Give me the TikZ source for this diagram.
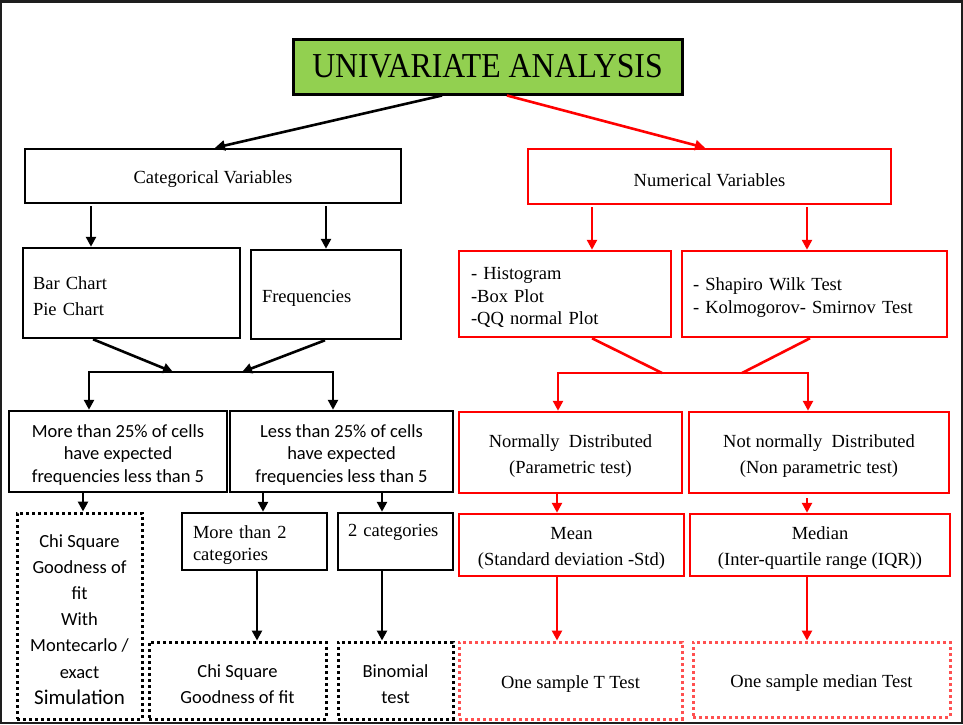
\documentclass[tikz,border=0pt]{standalone}
\usepackage{fontspec}
\setmainfont{Liberation Serif}
\newfontfamily\carl{Carlito}
\usetikzlibrary{arrows.meta}
\definecolor{framec}{HTML}{1E1E1E}
\definecolor{titlegreen}{HTML}{92D050}
\definecolor{dotred}{HTML}{FF5050}
\newcommand\tp{\rule{0pt}{19.5pt}}
\newcommand\mkbox[7]{\node[#6, minimum width={(#4-#2)*1pt}, minimum height={(#5-#3)*1pt}] (#1) at ({(#2+#4)/2},{(#3+#5)/2}) {#7};}
\tikzset{
  box/.style={draw, line width=2.5pt, inner sep=0pt, align=center},
  blk/.style={box, draw=black},
  rbox/.style={box, draw=red},
  dotb/.style={draw=black, line width=3pt, dash pattern=on 3pt off 3pt, inner sep=0pt, align=center},
  dotr/.style={dotb, draw=dotred},
  serif/.style={font=\fontsize{18.5}{26}\selectfont},
  serift/.style={font=\fontsize{18.5}{22.5}\selectfont},
  sans/.style={font=\carl\fontsize{18.5}{22.5}\selectfont},
  sanst/.style={font=\carl\fontsize{18.5}{26.2}\selectfont},
  leftt/.style={align=left, text width=#1},
  arr/.style={line width=2.6pt, -{Triangle[length=10pt,width=10pt]}},
  ln/.style={line width=2.6pt},
}
\begin{document}
\begin{tikzpicture}[x=1pt,y=-1pt]
\useasboundingbox (0,0) rectangle (963,724);
\fill[framec] (0,0) rectangle (963,724);
\fill[white] (2,3) rectangle (961,722);

\mkbox{title}{293}{39}{682}{94}{draw=black, fill=titlegreen, line width=3pt, inner sep=0pt, font=\fontsize{31.8}{32}\selectfont}{\raisebox{-2pt}{\scalebox{1}[1.1]{UNIVARIATE ANALYSIS}}}
\mkbox{cat}{25}{149}{401}{203}{blk, serif}{\tp Categorical Variables}
\mkbox{num}{528}{149}{891}{204}{rbox, serif}{\tp Numerical Variables}
\mkbox{bar}{23}{248}{240}{338}{blk, serif, leftt=197pt, inner xsep=10pt}{\tp Bar Chart\\Pie Chart}
\mkbox{freq}{251}{250}{401}{339}{blk, serif, leftt=128pt, inner xsep=11pt}{\tp Frequencies}
\mkbox{hist}{459}{251}{671}{337}{rbox, serift, leftt=188pt, inner xsep=12pt}{\tp - Histogram\\-Box Plot\\-QQ normal Plot}
\mkbox{shap}{682}{251}{947}{337}{rbox, serift, leftt=243pt, inner xsep=11pt}{\tp - Shapiro Wilk Test\\- Kolmogorov- Smirnov Test}
\mkbox{more}{9}{411}{227}{492}{blk, sans}{\tp More than 25\% of cells\\have expected\\frequencies less than 5}
\mkbox{less}{230}{411}{453}{492}{blk, sans}{\tp Less than 25\% of cells\\have expected\\frequencies less than 5}
\mkbox{norm}{459}{412}{682}{493}{rbox, serif}{\tp Normally\ \ Distributed\\(Parametric test)}
\mkbox{notn}{689}{412}{949}{493}{rbox, serif}{\tp Not normally\ \ Distributed\\(Non parametric test)}
\mkbox{chi}{17}{513}{142}{719}{dotb, sanst}{\tp Chi Square\\Goodness of\\fit\\With\\Montecarlo /\\exact\\{\fontsize{21}{26}\selectfont Simulation}}
\mkbox{more2}{182}{513}{327}{570}{blk, serift, leftt=123pt, inner xsep=11pt}{\tp More than 2\\categories}
\mkbox{two}{338}{513}{453}{570}{blk, serift, leftt=95pt, inner xsep=10pt}{2 categories\\\mbox{}}
\mkbox{chigof}{149}{642}{326}{719}{dotb, sanst}{\tp Chi Square\\Goodness of fit}
\mkbox{binom}{338}{642}{453}{719}{dotb, sanst}{\tp Binomial\\test}
\mkbox{mean}{459}{514}{684}{576}{rbox, serif}{\tp Mean\\(Standard deviation -Std)}
\mkbox{median}{690}{514}{950}{576}{rbox, serif}{\tp Median\\(Inter-quartile range (IQR))}
\mkbox{ttest}{459}{642}{682}{719}{dotr, serif}{\tp One sample T Test}
\mkbox{mtest}{693}{642}{950}{717}{dotr, serif}{\tp One sample median Test}

% top arrows
\draw[arr] (title.south -| 442,0) -- (cat.north -| 215,0);
\draw[arr, red] (title.south -| 507,0) -- (num.north -| 705,0);
\draw[arr, shorten <=2pt] (cat.south -| 91,0) -- (bar.north -| 91,0);
\draw[arr, shorten <=2pt] (cat.south -| 326,0) -- (freq.north -| 326,0);
\draw[arr, red, shorten <=2pt] (num.south -| 592,0) -- (hist.north -| 592,0);
\draw[arr, red, shorten <=2pt] (num.south -| 807,0) -- (shap.north -| 807,0);

% left merge
\coordinate (ml) at (173,372);
\coordinate (mr) at (242,372);
\coordinate (hl) at (89,372);
\coordinate (hr) at (333,372);
\draw[arr] (bar.south -| 93,0) -- (ml);
\draw[arr] (freq.south -| 325,0) -- (mr);
\draw[arr] (hl) -- (hr) -- (less.north -| hr);
\draw[arr] (hr) -- (hl) -- (more.north -| hl);

% right merge
\coordinate (rml) at (662,373);
\coordinate (rmr) at (742,373);
\coordinate (rhl) at (558,373);
\coordinate (rhr) at (808,373);
\draw[ln, red] (hist.south -| 592,0) -- (rml);
\draw[ln, red] (shap.south -| 810,0) -- (rmr);
\draw[arr, red] (rhl) -- (rhr) -- (notn.north -| rhr);
\draw[arr, red] (rhr) -- (rhl) -- (norm.north -| rhl);

% lower arrows
\draw[arr] (more.south -| 83,0) -- (chi.north -| 83,0);
\draw[arr] (less.south -| 263,0) -- (more2.north -| 263,0);
\draw[arr] (less.south -| 382,0) -- (two.north -| 382,0);
\draw[arr, red] (norm.south -| 557,0) -- (mean.north -| 557,0);
\draw[arr, red, shorten <=4pt] (notn.south -| 807,0) -- (median.north -| 807,0);
\draw[arr] (more2.south -| 257,0) -- (chigof.north -| 257,0);
\draw[arr] (two.south -| 382,0) -- (binom.north -| 382,0);
\draw[arr, red] (mean.south -| 557,0) -- (ttest.north -| 557,0);
\draw[arr, red] (median.south -| 807,0) -- (mtest.north -| 807,0);
\end{tikzpicture}
\end{document}
